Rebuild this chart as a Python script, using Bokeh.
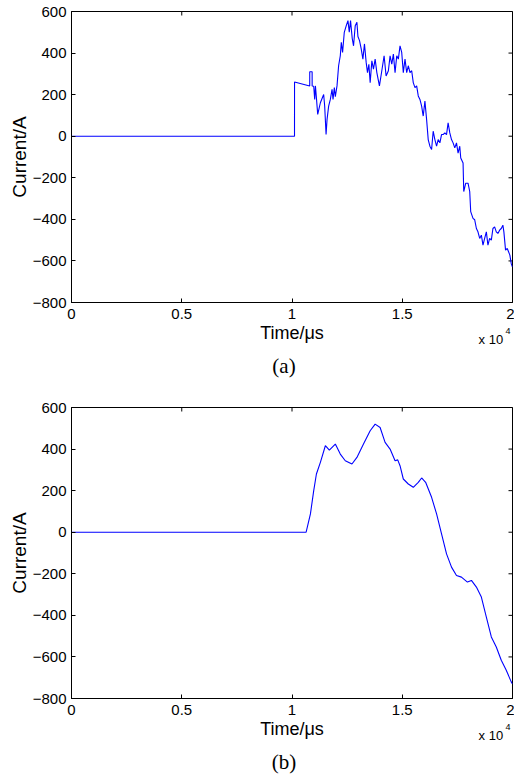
import math
from bokeh.plotting import figure
from bokeh.models import Range1d, FixedTicker, Label
from bokeh.layouts import column
from bokeh.embed import file_html
from bokeh.resources import INLINE

# ---- data (time in microseconds, current in amperes) ----
time_a = [0, 10114, 10115, 10804, 10805, 10913, 10914, 10985, 11030, 11062,
          11107, 11166, 11287, 11436, 11482, 11545, 11590, 11662, 11739, 11816,
          11861, 11920, 11965, 12041, 12114, 12190, 12236, 12294, 12371, 12461,
          12538, 12597, 12655, 12732, 12791, 12868, 12944, 12990, 13062, 13139,
          13215, 13287, 13364, 13423, 13486, 13545, 13622, 13694, 13771, 13848,
          13965, 14073, 14177, 14267, 14371, 14448, 14525, 14597, 14674, 14751,
          14823, 14899, 14976, 15048, 15125, 15202, 15274, 15351, 15428, 15500,
          15577, 15653, 15726, 15802, 15879, 15951, 16028, 16104, 16177, 16254,
          16331, 16403, 16480, 16557, 16629, 16706, 16782, 16855, 16931, 17008,
          17080, 17157, 17234, 17306, 17383, 17460, 17532, 17608, 17653, 17758,
          17789, 17879, 17983, 18060, 18105, 18209, 18286, 18363, 18434, 18512,
          18588, 18661, 18737, 18814, 18886, 18963, 19040, 19112, 19189, 19265,
          19338, 19415, 19491, 19564, 19609, 19685, 19762, 19821, 19880, 19943,
          20000]
current_a = [0, 0, 261, 242, 310, 310, 242, 240, 177, 242,
             185, 105, 161, 201, 145, 8, 81, 145, 177, 226,
             177, 234, 190, 242, 339, 387, 452, 403, 500, 532,
             556, 500, 556, 470, 435, 532, 548, 480, 460, 420,
             371, 444, 355, 306, 346, 258, 363, 323, 371, 306,
             242, 315, 387, 290, 315, 387, 347, 395, 306, 387,
             371, 435, 403, 306, 371, 306, 339, 306, 315, 258,
             234, 242, 194, 177, 145, 97, 169, 81, -16, -48,
             -64, 24, -16, -48, -16, -32, 8, 8, 16, 8,
             64, 16, -16, -32, -56, -32, -81, -48, -105, -129,
             -266, -226, -226, -266, -363, -395, -402, -444, -460, -492,
             -476, -524, -492, -460, -524, -492, -500, -444, -436, -460,
             -468, -452, -444, -428, -460, -548, -540, -556, -572, -613,
             -630]

time_b = [0, 10641, 10836, 10985, 11107, 11287, 11513, 11694, 11965, 12190,
          12416, 12719, 12944, 13242, 13545, 13771, 13996, 14222, 14448, 14674,
          14795, 14899, 15048, 15274, 15500, 15726, 15879, 16060, 16331, 16557,
          16782, 17008, 17234, 17460, 17685, 17956, 18137, 18363, 18588, 18814,
          19040, 19265, 19491, 19717, 19943, 20000]
current_b = [0, 0, 88, 200, 280, 336, 416, 395, 424, 376,
             344, 328, 360, 424, 488, 520, 504, 432, 400, 344,
             348, 320, 256, 232, 216, 240, 261, 240, 168, 88,
             -8, -104, -168, -208, -216, -240, -232, -264, -312, -408,
             -504, -552, -616, -664, -720, -730]

x_ticks = [0, 5000, 10000, 15000, 20000]
x_tick_labels = ["0", "0.5", "1", "1.5", "2"]
y_ticks = [-800, -600, -400, -200, 0, 200, 400, 600]
x_min, x_max = 0, 20000
y_min, y_max = -800, 600

SANS = "Liberation Sans"
SERIF = "Liberation Serif"

FRAME_W = 442
FRAME_H = 291


def px_right(px):
    """data x of a point px pixels right of the frame's left edge"""
    return x_min + px * (x_max - x_min) / FRAME_W


def px_below(px):
    """data y of a point px pixels below the frame's bottom edge"""
    return y_min - px * (y_max - y_min) / FRAME_H


def make_panel(time, current, caption, height, top_border, bottom_border, exp_side):
    p = figure(width=514, height=height,
               x_range=Range1d(x_min, x_max), y_range=Range1d(y_min, y_max),
               output_backend="svg", toolbar_location=None,
               min_border_left=70, min_border_right=2,
               min_border_top=top_border, min_border_bottom=bottom_border)
    p.xgrid.visible = False
    p.ygrid.visible = False
    p.outline_line_color = "black"
    p.outline_line_width = 1
    p.background_fill_color = "white"
    p.border_fill_color = "white"

    xa = p.xaxis[0]
    xa.ticker = FixedTicker(ticks=x_ticks)
    xa.major_label_overrides = {t: s for t, s in zip(x_ticks, x_tick_labels)}
    xa.axis_label = "Time/\u03bcs"
    ya = p.yaxis[0]
    ya.ticker = FixedTicker(ticks=y_ticks)
    ya.axis_label = "Current/A"

    for ax in (xa, ya):
        ax.major_tick_in = 4
        ax.major_tick_out = 0
        ax.minor_tick_in = 0
        ax.minor_tick_out = 0
        ax.axis_line_color = "black"
        ax.major_tick_line_color = "black"
        ax.major_label_text_font = SANS
        ax.major_label_text_font_size = "15px"
        ax.major_label_text_color = "black"
        ax.axis_label_text_font = SANS
        ax.axis_label_text_font_style = "normal"
        ax.axis_label_text_color = "black"
    xa.major_label_standoff = 6
    xa.axis_label_standoff = 1
    xa.axis_label_text_font_size = "18px"
    ya.major_label_standoff = 5
    ya.axis_label_standoff = 0
    ya.axis_label_text_font_size = "19px"

    # inward ticks on the top and right edges (half of each dash is clipped by the frame)
    p.scatter(x=x_ticks, y=[y_max] * len(x_ticks), marker="dash", angle=math.pi / 2,
              size=8, line_color="black", line_width=1)
    p.scatter(x=[x_max] * len(y_ticks), y=y_ticks, marker="dash",
              size=8, line_color="black", line_width=1)

    p.line(time, current, line_color="#0000FF", line_width=1.1)

    # texts under the axes: placed in side panels (not clipped), positioned in data units
    p.add_layout(Label(x=px_right(408), y=px_below(37), text="x 10",
                       text_font=SANS, text_font_size="13px",
                       text_align="left", text_baseline="middle",
                       text_color="black"), exp_side)
    p.add_layout(Label(x=px_right(435), y=px_below(28), text="4",
                       text_font=SANS, text_font_size="9px",
                       text_align="left", text_baseline="middle",
                       text_color="black"), "left")
    p.add_layout(Label(x=px_right(213), y=px_below(63), text=caption,
                       text_font=SERIF, text_font_size="21px",
                       text_align="center", text_baseline="middle",
                       text_color="black"), "below")
    return p


p1 = make_panel(time_a, current_a, "(a)", 385, 11, 83, "below")
p2 = make_panel(time_b, current_b, "(b)", 393, 22, 80, "above")

layout = column(p1, p2, spacing=0)
open("out.html", "w").write(file_html(layout, INLINE))
